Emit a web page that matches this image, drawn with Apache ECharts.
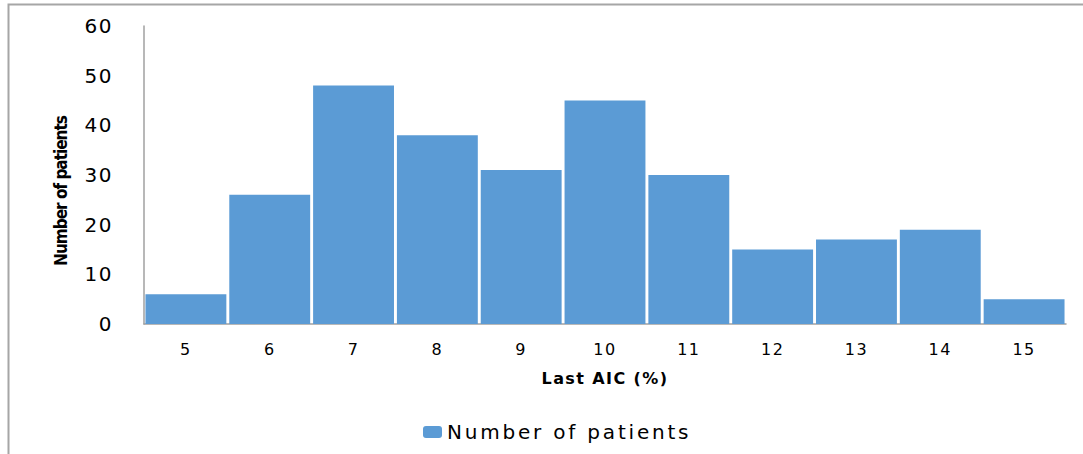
<!DOCTYPE html>
<html><head><meta charset="utf-8">
<script src="https://cdn.jsdelivr.net/npm/echarts@6/dist/echarts.min.js"></script>
<style>html,body{margin:0;padding:0;background:#fff}#c{width:1083px;height:454px}</style>
</head><body><div id="c"></div>
<script>
var categories = ['5','6','7','8','9','10','11','12','13','14','15'];
var patients = [6, 26, 48, 38, 31, 45, 30, 15, 17, 19, 5];
var yTicks = [0, 10, 20, 30, 40, 50, 60];
var seriesName = 'Number of patients';
var xTitle = 'Last AIC (%)';
var yTitle = 'Number of patients';

var chart = echarts.init(document.getElementById('c'), null, {renderer: 'svg'});
chart.setOption({
  animation: false,
  backgroundColor: '#fff',
  graphic: [{
    type: 'rect', shape: {x: 8.5, y: 4.5, width: 1100, height: 500},
    style: {fill: 'none', stroke: '#a6a6a6', lineWidth: 2}, silent: true, z: -1
  }, {
    type: 'text', x: 61, y: 191, rotation: Math.PI / 2,
    style: {text: yTitle, align: 'center', verticalAlign: 'middle',
      font: 'bold 17px "DejaVu Sans Condensed", "Liberation Sans", sans-serif', fill: '#000'}
  }],
  grid: {left: 144, right: 17, top: 26, bottom: 130},
  legend: {
    top: 417, left: 418, itemWidth: 19, itemHeight: 12, itemGap: 10,
    textStyle: {fontFamily: 'DejaVu Sans', fontSize: 20, color: '#000', padding: [0, 0, 0, 0]},
    data: [seriesName]
  },
  xAxis: {
    type: 'category', data: categories,
    name: xTitle, nameLocation: 'middle', nameGap: 46,
    nameTextStyle: {fontFamily: 'DejaVu Sans', fontSize: 16, fontWeight: 'bold', color: '#000'},
    axisLine: {lineStyle: {color: '#a0a0a0', width: 1.5}},
    axisTick: {show: false},
    axisLabel: {fontFamily: 'DejaVu Sans', fontSize: 16, color: '#000', margin: 17}
  },
  yAxis: {
    type: 'value', min: yTicks[0], max: yTicks[yTicks.length - 1], interval: 10,
    axisLine: {show: true, lineStyle: {color: '#a0a0a0', width: 1.5}},
    axisTick: {show: false},
    splitLine: {show: false},
    axisLabel: {fontFamily: 'DejaVu Sans', fontSize: 20, color: '#000', margin: 31}
  },
  series: [{
    name: seriesName, type: 'bar', data: patients,
    barCategoryGap: '3.5%',
    itemStyle: {color: '#5b9bd5'}
  }]
});

function widen() {
  var texts = document.querySelectorAll('#c svg text');
  texts.forEach(function (t) {
    var s = t.textContent;
    var anchor = t.getAttribute('text-anchor') || t.style.textAnchor || '';
    var tr = t.getAttribute('transform') || '';
    if (s === xTitle) t.style.letterSpacing = '1.4px';
    else if (s === yTitle && /rotate|matrix\(0/.test(tr)) t.style.letterSpacing = '-1px';
    else if (s === seriesName) t.style.letterSpacing = '2.8px';
    else if (anchor === 'end') t.style.letterSpacing = '1.5px';
    else if (categories.indexOf(s) >= 0) t.style.letterSpacing = '1.5px';
  });
}
widen();
chart.on('finished', widen);
</script></body></html>
